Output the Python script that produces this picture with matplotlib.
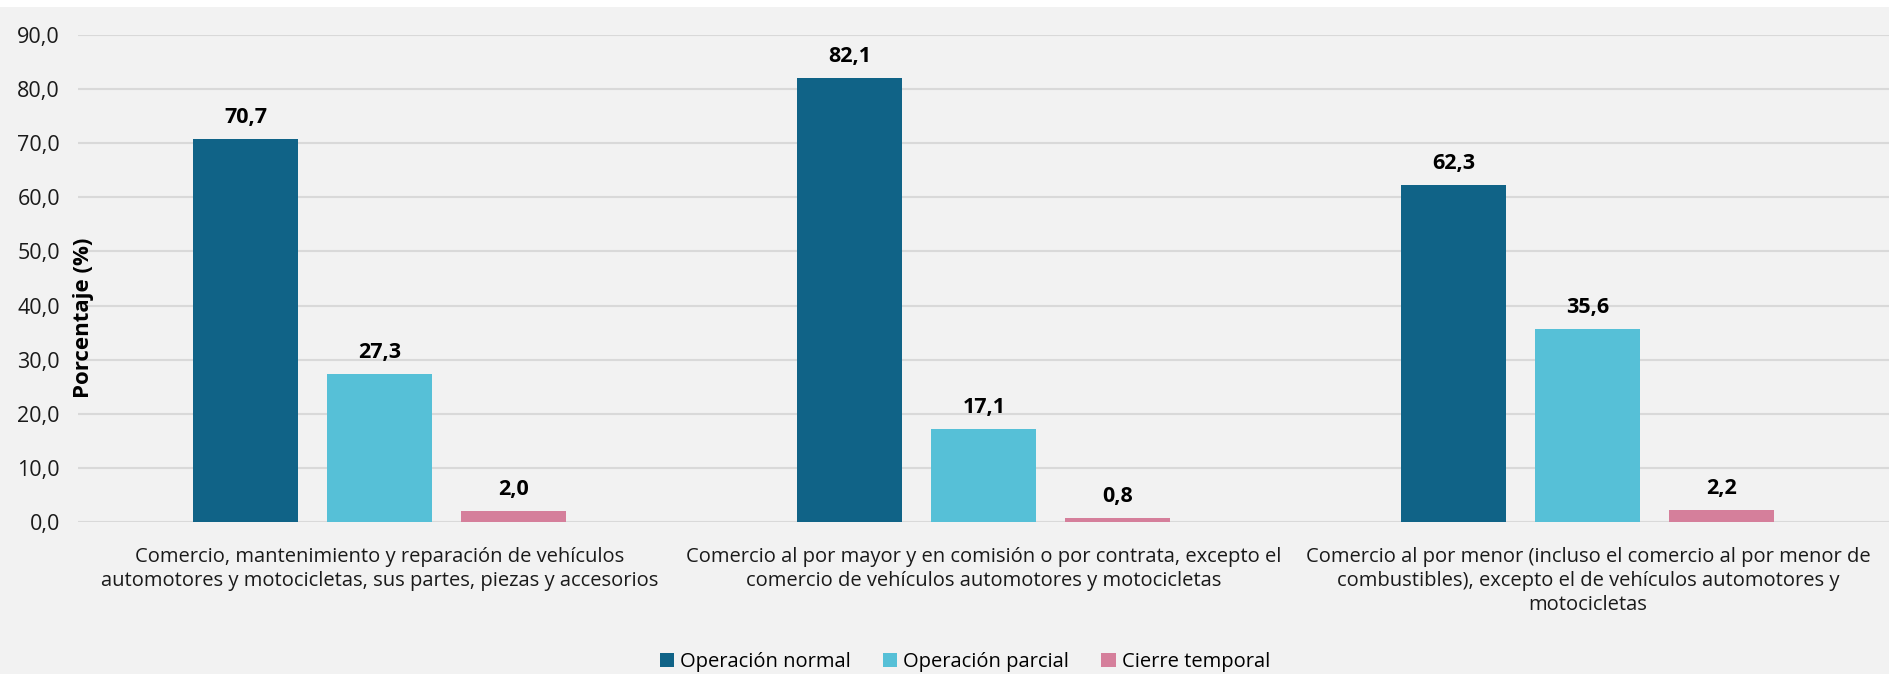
import matplotlib
matplotlib.use("Agg")
import matplotlib.pyplot as plt
import numpy as np
from matplotlib.patches import Rectangle

categories = [
    "Comercio, mantenimiento y reparación de vehículos\nautomotores y motocicletas, sus partes, piezas y accesorios",
    "Comercio al por mayor y en comisión o por contrata, excepto el\ncomercio de vehículos automotores y motocicletas",
    "Comercio al por menor (incluso el comercio al por menor de\ncombustibles), excepto el de vehículos automotores y\nmotocicletas",
]
series_names = ["Operación normal", "Operación parcial", "Cierre temporal"]
normal = [70.7, 82.1, 62.3]
parcial = [27.3, 17.1, 35.6]
cierre = [2.0, 0.8, 2.2]
yticks = [0, 10, 20, 30, 40, 50, 60, 70, 80, 90]

colors = ["#106387", "#56c0d7", "#d57f9b"]
BG = "#f2f2f2"

plt.rcParams['font.family'] = ['Open Sans', 'DejaVu Sans']

W, H = 1890, 674
fig = plt.figure(figsize=(W / 100, H / 100), dpi=100, facecolor=BG)
fig.patches.append(Rectangle((0, 1 - 7 / H), 1, 7 / H, transform=fig.transFigure,
                             facecolor="white", edgecolor="none", zorder=0))

ax = fig.add_axes([78 / W, 1 - 522 / H, 1 - 78 / W, (522 - 35) / H])
ax.set_facecolor(BG)

x = np.arange(len(categories))
slot = 134 / 604
bw = 105 / 604
data = [normal, parcial, cierre]
for i, (vals, name, c) in enumerate(zip(data, series_names, colors)):
    pos = x + (i - 1) * slot
    bars = ax.bar(pos, vals, width=bw, color=c, label=name, zorder=3)
    labels = [f"{v:.1f}".replace(".", ",") for v in vals]
    ax.bar_label(bars, labels=labels, padding=8, fontsize=15.5, fontweight="bold",
                 color="black")

ax.set_xlim(-0.5, len(categories) - 0.5)
ax.set_ylim(0, 90)
ax.set_yticks(yticks)
ax.set_yticklabels([f"{v:.1f}".replace(".", ",") for v in yticks], fontsize=15.5, color="#1a1a1a")
ax.set_xticks(x)
ax.set_xticklabels(categories, fontsize=14.5, color="#1a1a1a", linespacing=1.25)
ax.tick_params(axis='both', length=0)
ax.tick_params(axis='x', pad=18)
ax.tick_params(axis='y', pad=13)
ax.grid(axis='y', color="#d9d9d9", linewidth=1.5, zorder=0)
for s in ax.spines.values():
    s.set_visible(False)

fig.text(84 / W, 1 - 318 / H, "Porcentaje (%)", rotation=90, ha="center", va="center",
         fontsize=16, fontweight="bold", color="black")

leg = fig.legend(loc="center", bbox_to_anchor=(965 / W, 1 - 662 / H), ncol=3, frameon=False,
                 fontsize=14.5, handlelength=0.7, handleheight=0.7, handletextpad=0.3,
                 columnspacing=1.6)

fig.savefig("out.png", dpi=100, facecolor=BG)
